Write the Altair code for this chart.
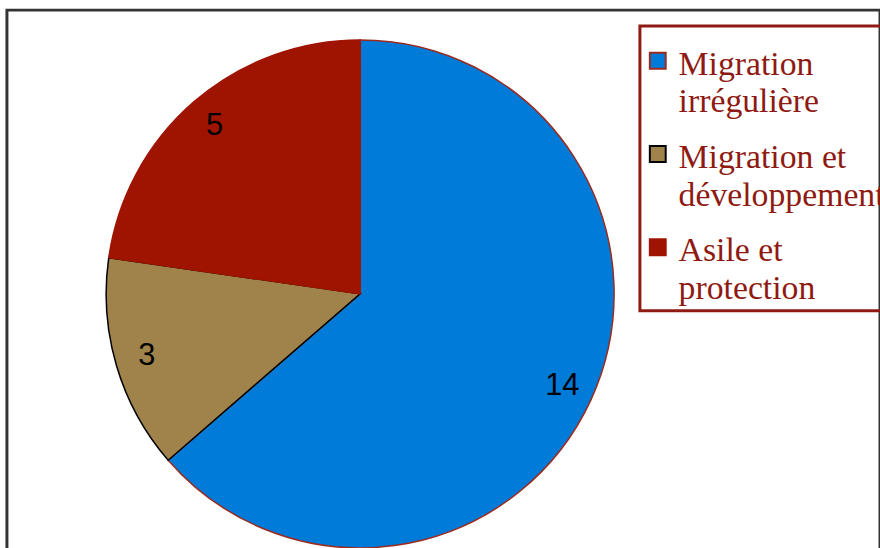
import altair as alt
import pandas as pd

categories = ["Migration irrégulière", "Migration et développement", "Asile et protection"]
values = [14, 3, 5]
order_idx = [0, 1, 2]
fill_colors = ["#007BD7", "#A0834B", "#9F1400"]
stroke_colors = ["#9A2A20", "#000000", "#9F1400"]

df = pd.DataFrame({"category": categories, "value": values, "idx": order_idx})

CX, CY = 356, 286

color_scale = alt.Scale(domain=categories, range=fill_colors)
stroke_scale = alt.Scale(domain=categories, range=stroke_colors)

# square symbol shifted so it sits beside the first label line
SYMBOL_PATH = "M-1.5,0.625 L0.5,0.625 L0.5,2.625 L-1.5,2.625 Z"

legend = alt.Legend(
    title=None,
    orient="none",
    legendX=638,
    legendY=16,
    symbolType=SYMBOL_PATH,
    symbolSize=256,
    symbolStrokeWidth=2,
    labelFont="Liberation Serif",
    labelFontSize=34,
    labelColor="#8E1A12",
    labelLimit=500,
    labelBaseline="top",
    labelOffset=0,
    labelExpr="[slice(datum.label, 0, lastindexof(datum.label, ' ')), slice(datum.label, lastindexof(datum.label, ' ') + 1)]",
    rowPadding=5,
    padding=5,
    strokeColor="#8E1A12",
)

base = alt.Chart(df)

arcs = base.mark_arc(radius=256, strokeWidth=1.5).encode(
    theta=alt.Theta("value:Q", stack=True),
    order=alt.Order("idx:O"),
    fill=alt.Fill("category:N", scale=color_scale, legend=legend, sort=categories),
    stroke=alt.Stroke("category:N", scale=stroke_scale, legend=legend, sort=categories),
    x=alt.value(CX),
    y=alt.value(CY),
)

labels = base.mark_text(radius=224, font="Liberation Sans", fontSize=31, color="#000000").encode(
    theta=alt.Theta("value:Q", stack=True),
    order=alt.Order("idx:O"),
    text=alt.Text("value:Q"),
    x=alt.value(CX),
    y=alt.value(CY),
)

chart = (
    alt.layer(arcs, labels)
    .properties(
        width=880,
        height=548,
        autosize=alt.AutoSizeParams(type="none"),
        padding={"left": 7, "top": 8, "right": 0, "bottom": 0},
    )
    .configure(style={"guide-label": {"lineHeight": 38}})
    .configure_view(stroke="#333333", strokeWidth=3)
    .configure_legend(strokeWidth=3)
)

chart.save("out.html", embed_options={"renderer": "svg", "actions": False})
